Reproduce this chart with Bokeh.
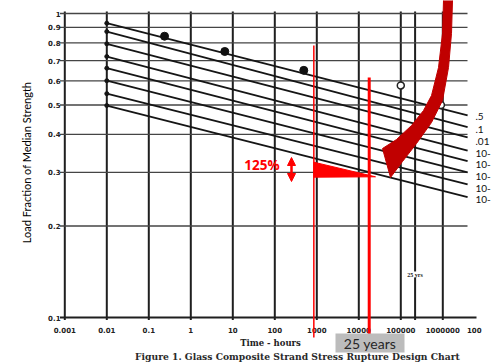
import math
from bokeh.plotting import figure
from bokeh.models import Range1d, Label, Arrow, NormalHead
from bokeh.core.properties import value
from bokeh.embed import file_html
from bokeh.resources import INLINE

# ---------------- data ----------------
line_start_x = 0.01          # hours, where the design lines begin
line_end_x = 3.9e6           # hours, where the design lines are cut
line_start_y = [0.929, 0.872, 0.795, 0.722, 0.661, 0.601, 0.545, 0.498]
line_end_y = [0.462, 0.423, 0.391, 0.354, 0.327, 0.300, 0.274, 0.249]
curve_labels = [".5", ".1", ".01", "10-", "10-", "10-", "10-", "10-"]

test_x = [0.237, 6.45, 490]
test_y = [0.842, 0.75, 0.65]
open_x = [1.0e5, 9.0e5]
open_y = [0.58, 0.50]

x_ticks = [1e-3, 1e-2, 1e-1, 1, 10, 100, 1e3, 1e4, 1e5, 1e6]
x_tick_labels = ["0.001", "0.01", "0.1", "1", "10", "100", "1000", "10000",
                 "100000", "1000000"]
x_cut_label = "100"          # visible start of the next (cropped) tick label
y_ticks = [0.1, 0.2, 0.3, 0.4, 0.5, 0.6, 0.7, 0.8, 0.9, 1.0]
y_tick_labels = ["0.1", "0.2", "0.3", "0.4", "0.5", "0.6", "0.7", "0.8", "0.9", "1"]

hours_25_years = 25 * 8760
red_marker_hours = [850, 17700]

# ---------------- layout helpers (page pixel -> data) ----------------
W, H = 491, 363
X0, DX, Y0, DY = 64.3, 42.0, 13.0, 304.0


def px_x(X):
    return 10 ** (-3 + (X - X0) / DX)


def px_y(Y):
    return 10 ** (-(Y - Y0) / DY)


p = figure(width=W, height=H, x_axis_type="log", y_axis_type="log",
           x_range=Range1d(px_x(0), px_x(W)), y_range=Range1d(px_y(H), px_y(0)),
           x_axis_location=None, y_axis_location=None,
           toolbar_location=None, output_backend="svg", min_border=0)
p.grid.visible = False
p.outline_line_color = None
p.background_fill_color = "white"
p.border_fill_color = "white"

# grid
v_x = x_ticks + [hours_25_years]
p.segment(x0=v_x, y0=[px_y(11)] * len(v_x), x1=v_x, y1=[px_y(319.5)] * len(v_x),
          line_width=2, line_color="#1f1f1f")
p.segment(x0=[px_x(59.5)] * 9, y0=y_ticks[1:], x1=[px_x(467)] * 9, y1=y_ticks[1:],
          line_width=1.3, line_color="#454545")
p.segment(x0=[px_x(59.5)], y0=[0.1], x1=[px_x(476)], y1=[0.1],
          line_width=2, line_color="#1f1f1f")

# design lines
n = len(line_start_y)
p.segment(x0=[line_start_x] * n, y0=line_start_y, x1=[line_end_x] * n, y1=line_end_y,
          line_width=1.8, line_color="#151515")
p.scatter(x=[line_start_x] * n, y=line_start_y, size=4, color="#151515")

# test points
p.scatter(x=test_x, y=test_y, size=8, color="#111111")
p.scatter(x=open_x, y=open_y, size=7, fill_color="white", line_color="#222222",
          line_width=1.5)

# tick labels
p.text(x=[px_x(60)] * len(y_ticks), y=y_ticks, text=y_tick_labels,
       text_align="right", text_baseline="middle", text_font=value("DejaVu Sans"),
       text_font_style="bold", text_font_size="7px", text_color="#222222")
p.text(x=x_ticks, y=[px_y(329)] * len(x_ticks), text=x_tick_labels,
       text_align="center", text_baseline="middle", text_font=value("DejaVu Sans"),
       text_font_style="bold", text_font_size="7px", text_color="#222222")
p.text(x=[px_x(466.5)], y=[px_y(329)], text=[x_cut_label],
       text_align="left", text_baseline="middle", text_font=value("DejaVu Sans"),
       text_font_style="bold", text_font_size="7px", text_color="#222222")
p.text(x=[px_x(273)], y=[px_y(342)], text=["Time  -  hours"], text_align="center",
       text_baseline="middle", text_font=value("DejaVu Serif"),
       text_font_style="bold", text_font_size="8.5px", text_color="#222222")
p.text(x=[px_x(298.5)], y=[px_y(356)], text=["Figure 1.  Glass Composite Strand Stress Rupture Design Chart"],
       text_align="center", text_baseline="middle", text_font=value("DejaVu Serif"),
       text_font_style="bold", text_font_size="9.2px", text_color="#2a2a2a")
p.text(x=[px_x(25.5)], y=[px_y(162)], text=["Load Fraction of Median Strength"],
       angle=math.pi / 2, text_align="center", text_baseline="middle",
       text_font=value("Lato"), text_font_size="11px", text_color="black")

p.add_layout(Label(x=hours_25_years, y=px_y(274), text="25 yrs", text_align="center",
                   text_baseline="middle", text_font="Liberation Serif",
                   text_font_style="bold", text_font_size="6px", text_color="#222222",
                   background_fill_color="white"))

# curve labels on the right
label_Y = [116, 129, 141, 153, 164, 176, 188, 199]
p.text(x=[px_x(475)] * n, y=[px_y(Y) for Y in label_Y], text=curve_labels,
       text_align="left", text_baseline="middle", text_font=value("Lato"),
       text_font_size="10px", text_color="#111111")

# red annotations
p.segment(x0=[red_marker_hours[0]], y0=[px_y(45)], x1=[red_marker_hours[0]], y1=[px_y(337)],
          line_width=1.5, line_color="#ff0000")
p.segment(x0=[red_marker_hours[1]], y0=[px_y(77)], x1=[red_marker_hours[1]], y1=[px_y(340)],
          line_width=3, line_color="#ff0000")
p.patch(x=[px_x(313.3), px_x(313.3), px_x(375)],
        y=[px_y(161.7), px_y(176.7), px_y(176.3)], color="#ff0000")
p.text(x=[px_x(261.5)], y=[px_y(164.5)], text=["125%"], text_align="center",
       text_baseline="middle", text_font=value("Open Sans"), text_font_style="bold",
       text_font_size="13.5px", text_color="#ff0000")
p.add_layout(Arrow(x_start=px_x(291), y_start=px_y(181), x_end=px_x(291), y_end=px_y(157),
                   start=NormalHead(size=8, fill_color="#ff0000", line_color="#ff0000"),
                   end=NormalHead(size=8, fill_color="#ff0000", line_color="#ff0000"),
                   line_width=2.5, line_color="#ff0000"))

outer = [(452, -5), (452, 0), (451, 33), (448, 67), (442, 100), (431, 122), (416, 143),
         (402, 161), (390, 177)]
inner = [(382, 148), (396, 139), (411, 125), (423, 110), (431, 95), (438, 67), (442, 33),
         (443, 0), (443, -5)]
shape = outer + inner
p.patch(x=[px_x(a) for a, b in shape], y=[px_y(b) for a, b in shape],
        fill_color="#c00000", line_color="#c00000")

# 25 years box
p.quad(left=[px_x(335)], right=[px_x(404)], top=[px_y(333)], bottom=[px_y(352)],
       fill_color="#bcbcbc", line_color=None)
p.text(x=[px_x(369.5)], y=[px_y(343)], text=["25 years"], text_align="center",
       text_baseline="middle", text_font=value("Lato"), text_font_size="14px",
       text_color="#262626")

open("out.html", "w").write(file_html(p, INLINE))
